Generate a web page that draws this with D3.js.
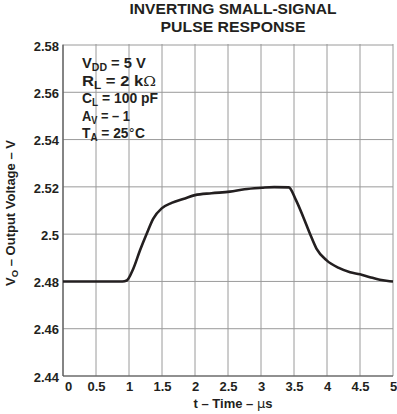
<!DOCTYPE html>
<html>
<head>
<meta charset="utf-8">
<script src="https://cdn.jsdelivr.net/npm/d3@7"></script>
<style>
  html, body { margin: 0; padding: 0; background: #fff; }
  svg { display: block; }
  text { font-family: "Liberation Sans", Arial, Helvetica, sans-serif; font-weight: bold; fill: #231f20; }
</style>
</head>
<body>
<svg id="chart" width="397" height="414"></svg>
<script>
// ---- data ----
const timeUs = [0, 0.5, 0.9, 0.965, 1.065, 1.167, 1.268, 1.368, 1.495, 1.646, 1.848, 2.0, 2.25, 2.53, 2.75, 3.01, 3.2, 3.42, 3.53, 3.64, 3.74, 3.84, 3.995, 4.17, 4.35, 4.5, 4.65, 4.8, 4.95, 5];
const outputV = [2.48, 2.48, 2.48, 2.4804, 2.4854, 2.4932, 2.5002, 2.5066, 2.5109, 2.5132, 2.5151, 2.5165, 2.5173, 2.518, 2.519, 2.5196, 2.5199, 2.5198, 2.5144, 2.5073, 2.5003, 2.4939, 2.4889, 2.4858, 2.4839, 2.483, 2.4818, 2.4807, 2.4801, 2.48];
const xTicks = [0, 0.5, 1, 1.5, 2, 2.5, 3, 3.5, 4, 4.5, 5];
const yTicks = [2.44, 2.46, 2.48, 2.5, 2.52, 2.54, 2.56, 2.58];
const titleLines = ["INVERTING SMALL-SIGNAL", "PULSE RESPONSE"];
const titleWidths = [207, 145];
const conditions = [
  [["V", ""], ["DD", "sub"], [" = 5 V", ""]],
  [["R", ""], ["L", "sub"], [" = 2 k", ""], ["\u03A9", "sym"]],
  [["C", ""], ["L", "sub"], [" = 100 pF", ""]],
  [["A", ""], ["V", "sub"], [" = \u2013 1", ""]],
  [["T", ""], ["A", "sub"], [" = 25", ""], ["\u00B0", "sym"], ["C", ""]]
];
const conditionWidths = [64, 74, 76, 48, 63];

// ---- layout ----
const W = 397, H = 414;
const m = { left: 63, right: 4, top: 45, bottom: 38 };
const svg = d3.select("#chart");

const x = d3.scaleLinear().domain([0, 5]).range([m.left, W - m.right]);
const y = d3.scaleLinear().domain([2.44, 2.58]).range([H - m.bottom, m.top]);

// grid
const grid = svg.append("g");
grid.selectAll("line.v").data(xTicks).join("line")
  .attr("x1", d => x(d)).attr("x2", d => x(d))
  .attr("y1", y(2.58) - 1).attr("y2", y(2.44))
  .attr("stroke", "#9a9a9a").attr("stroke-width", 1);
grid.selectAll("line.h").data(yTicks).join("line")
  .attr("x1", x(0)).attr("x2", x(5))
  .attr("y1", d => y(d)).attr("y2", d => y(d))
  .attr("stroke", "#9a9a9a").attr("stroke-width", 1);

// left and bottom axis lines
svg.append("line").attr("x1", x(0)).attr("x2", x(0)).attr("y1", y(2.58)).attr("y2", y(2.44))
  .attr("stroke", "#555").attr("stroke-width", 1.2);
svg.append("line").attr("x1", x(0)).attr("x2", x(5)).attr("y1", y(2.44)).attr("y2", y(2.44))
  .attr("stroke", "#555").attr("stroke-width", 1.2);

// y tick labels
const yAxis = svg.append("g").attr("transform", `translate(${x(0)},1)`)
  .call(d3.axisLeft(y).tickValues(yTicks).tickSize(0).tickPadding(4)
    .tickFormat(d => d3.format(".2~f")(d)));
yAxis.select(".domain").remove();
yAxis.selectAll("text").attr("font-size", 13).attr("font-family", null).attr("fill", "#231f20");

// x tick labels
const xAxis = svg.append("g").attr("transform", `translate(0,${y(2.44)})`)
  .call(d3.axisBottom(x).tickValues(xTicks).tickSize(0).tickPadding(6)
    .tickFormat(d => d3.format("~g")(d)));
xAxis.select(".domain").remove();
xAxis.selectAll("text").attr("font-size", 13).attr("font-family", null).attr("fill", "#231f20");
xAxis.selectAll(".tick").filter(d => d === 0).select("text").attr("dx", 5);

// curve
const pts = timeUs.map((t, i) => [t, outputV[i]]);
svg.append("path").datum(pts)
  .attr("fill", "none").attr("stroke", "#231f20").attr("stroke-width", 2.6)
  .attr("stroke-linejoin", "round")
  .attr("d", d3.line().x(d => x(d[0])).y(d => y(d[1])).curve(d3.curveMonotoneX));

// title
titleLines.forEach((s, i) => {
  const g = svg.append("g").attr("transform", `translate(233,${13.5 + i * 18.5})`);
  const t = g.append("text").attr("text-anchor", "middle").attr("font-size", 14.2).text(s);
  const w = t.node().getComputedTextLength();
  t.attr("transform", `scale(${titleWidths[i] / w},1)`);
});

// conditions
const cond = svg.append("g");
conditions.forEach((parts, i) => {
  const bx = 82, by = 68 + i * 17.5;
  const g = cond.append("g").attr("transform", `translate(${bx},${by})`);
  const t = g.append("text").attr("x", 0).attr("y", 0).attr("font-size", 14);
  let inSub = false;
  parts.forEach(([s, kind]) => {
    const ts = t.append("tspan").text(s);
    if (kind === "sub") { ts.attr("font-size", 10).attr("dy", 3); inSub = true; }
    else {
      if (inSub) { ts.attr("dy", -3); inSub = false; }
      if (kind === "sym") ts.attr("font-weight", "normal").attr("font-family", "DejaVu Serif, serif").attr("font-size", 13);
    }
  });
  const w = t.node().getComputedTextLength();
  t.attr("transform", `scale(${conditionWidths[i] / w},1)`);
});

// x axis title
const xt = svg.append("text").attr("x", 233).attr("y", 408).attr("text-anchor", "middle").attr("font-size", 13);
xt.append("tspan").text("t \u2013 Time \u2013 ");
xt.append("tspan").attr("font-weight", "normal").attr("font-family", "DejaVu Sans, sans-serif").text("\u03BC");
xt.append("tspan").text("s");

// y axis title
const yt = svg.append("text").attr("transform", `translate(15,213) rotate(-90)`)
  .attr("text-anchor", "middle").attr("font-size", 13);
yt.append("tspan").text("V");
yt.append("tspan").attr("font-size", 9.5).attr("dy", 3).text("O");
yt.append("tspan").attr("dy", -3).text(" \u2013 Output Voltage \u2013 V");
</script>
</body>
</html>
